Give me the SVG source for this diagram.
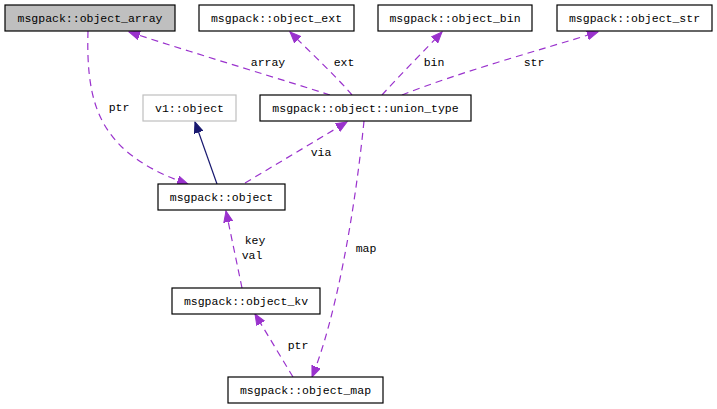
<svg xmlns="http://www.w3.org/2000/svg" width="717" height="409" viewBox="0 0 717 409">
<style>
.box{fill:#fff;stroke:#000;stroke-width:1.2}
.t{font-family:"Liberation Mono","DejaVu Sans Mono",monospace;font-size:11.5px;fill:#000;text-anchor:middle}
.e{fill:none;stroke:#9a32cd;stroke-width:1.2;stroke-dasharray:7,5;marker-end:url(#ap)}
.i{fill:none;stroke:#191970;stroke-width:1.2;marker-end:url(#an)}
</style>
<defs>
<marker id="ap" markerUnits="userSpaceOnUse" markerWidth="12" markerHeight="10" refX="11" refY="5" orient="auto"><path d="M0,0.5 L11,5 L0,9.5 z" fill="#9a32cd" stroke="#9a32cd"/></marker>
<marker id="an" markerUnits="userSpaceOnUse" markerWidth="12" markerHeight="10" refX="11" refY="5" orient="auto"><path d="M0,0.5 L11,5 L0,9.5 z" fill="#191970" stroke="#191970"/></marker>
</defs>
<rect width="717" height="409" fill="#fff"/>
<g id="connectors">
<path class="e" d="M330,95 C290,82 200,55 129,32"/>
<path class="e" d="M352,95 C335,75 310,52 290,32"/>
<path class="e" d="M382,95 C400,75 425,50 442,32"/>
<path class="e" d="M402,95 C460,72 540,50 598,32"/>
<path class="e" d="M88,31 C86,95 98,125 125,150 C145,167 165,176 188,184"/>
<path class="i" d="M217,184 L195,122"/>
<path class="e" d="M245,183 L347,122"/>
<path class="e" d="M364,121 C354,220 335,320 312,377"/>
<path class="e" d="M242,288 L226,211"/>
<path class="e" d="M293,377 L255,314"/>
<text class="t" x="268" y="66">array</text>
<text class="t" x="344" y="66">ext</text>
<text class="t" x="434" y="66">bin</text>
<text class="t" x="534" y="66">str</text>
<text class="t" x="119" y="111">ptr</text>
<text class="t" x="321" y="156">via</text>
<text class="t" x="255" y="244">key</text>
<text class="t" x="252" y="259">val</text>
<text class="t" x="366" y="252">map</text>
<text class="t" x="298" y="349">ptr</text>
</g>
<g id="object_array"><rect x="5" y="5" width="170" height="26" fill="#bfbfbf" stroke="#000" stroke-width="1.2"/><text class="t" x="90" y="22">msgpack::object_array</text></g>
<g id="object_ext"><rect class="box" x="199" y="5" width="155" height="26"/><text class="t" x="276.5" y="22">msgpack::object_ext</text></g>
<g id="object_bin"><rect class="box" x="378" y="5" width="154" height="26"/><text class="t" x="455" y="22">msgpack::object_bin</text></g>
<g id="object_str"><rect class="box" x="557" y="5" width="155" height="26"/><text class="t" x="634.5" y="22">msgpack::object_str</text></g>
<g id="v1_object"><rect x="143" y="95" width="93" height="26" fill="#fff" stroke="#bfbfbf" stroke-width="1.2"/><text class="t" x="189.5" y="112">v1::object</text></g>
<g id="union_type"><rect class="box" x="260" y="95" width="211" height="26"/><text class="t" x="365.5" y="112">msgpack::object::union_type</text></g>
<g id="object"><rect class="box" x="158" y="184" width="127" height="26"/><text class="t" x="221.5" y="201">msgpack::object</text></g>
<g id="object_kv"><rect class="box" x="172" y="288" width="148" height="26"/><text class="t" x="246" y="305">msgpack::object_kv</text></g>
<g id="object_map"><rect class="box" x="228" y="377" width="155" height="26"/><text class="t" x="305.5" y="394">msgpack::object_map</text></g>
</svg>
